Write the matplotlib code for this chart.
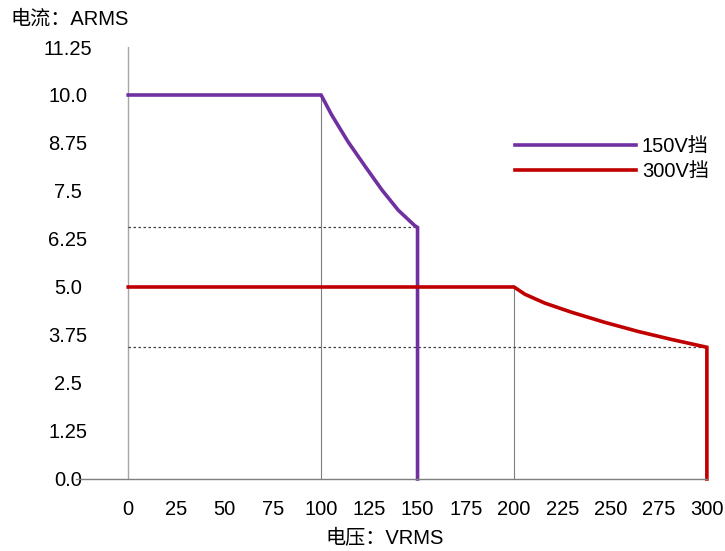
import matplotlib.pyplot as plt

plt.rcParams['font.family'] = ['Liberation Sans', 'Noto Sans CJK SC', 'DejaVu Sans']

# 150V挡 曲线
v150 = [0, 100, 105.5, 114, 123, 131.5, 140, 148.5, 150, 150]
i150 = [10, 10, 9.48, 8.78, 8.13, 7.53, 7.0, 6.6, 6.55, 0]
# 300V挡 曲线
v300 = [0, 200, 205.7, 216, 230, 247, 264.5, 282, 300, 300]
i300 = [5, 5, 4.81, 4.58, 4.34, 4.08, 3.84, 3.63, 3.43, 0]

xticks = list(range(0, 301, 25))
yticks = [0, 1.25, 2.5, 3.75, 5.0, 6.25, 7.5, 8.75, 10.0, 11.25]
ylabels = ['0.0', '1.25', '2.5', '3.75', '5.0', '6.25', '7.5', '8.75', '10.0', '11.25']

fig = plt.figure(figsize=(7.25, 5.51), dpi=100)
ax = fig.add_axes([0.105, 0.1307, 0.87, 0.784])
ax.set_xlim(-27, 300)
ax.set_ylim(0, 11.25)

for s in ['top', 'right', 'left']:
    ax.spines[s].set_visible(False)
ax.spines['bottom'].set_color('#7f7f7f')
ax.spines['bottom'].set_linewidth(1)

# lignes de repère
ax.plot([0, 0], [0, 11.25], color='#a6a6a6', lw=1)
ax.plot([100, 100], [0, 10], color='#7f7f7f', lw=0.8)
ax.plot([200, 200], [0, 5], color='#7f7f7f', lw=0.8)
ax.plot([0, 150], [i150[-2], i150[-2]], color='#404040', lw=0.9, ls=(0, (2, 2)))
ax.plot([0, 300], [i300[-2], i300[-2]], color='#404040', lw=0.9, ls=(0, (2, 2)))

ax.plot(v150, i150, color='#7030a0', lw=2.6, label='150V挡', solid_joinstyle='miter', clip_on=False)
ax.plot(v300, i300, color='#c00000', lw=2.6, label='300V挡', solid_joinstyle='miter', clip_on=False)

ax.set_xticks(xticks)
ax.set_yticks(yticks)
ax.set_yticklabels(ylabels)
ax.tick_params(axis='both', length=0, labelsize=14.5)
ax.tick_params(axis='x', pad=15)
for t in ax.get_yticklabels():
    t.set_horizontalalignment('center')
ax.yaxis.set_tick_params(pad=6)

fig.text(0.531, 0.006, '电压：VRMS', ha='center', va='bottom', fontsize=14.5)
fig.text(0.015, 0.965, '电流：ARMS', ha='left', va='center', fontsize=14.5)

ax.legend(loc='upper left', bbox_to_anchor=(515 / 725, 1 - 137 / 551),
          bbox_transform=fig.transFigure, frameon=False, fontsize=14.5,
          handlelength=6.0, handletextpad=0.3, labelspacing=0.3,
          borderpad=0, borderaxespad=0)

plt.savefig('out.png')
